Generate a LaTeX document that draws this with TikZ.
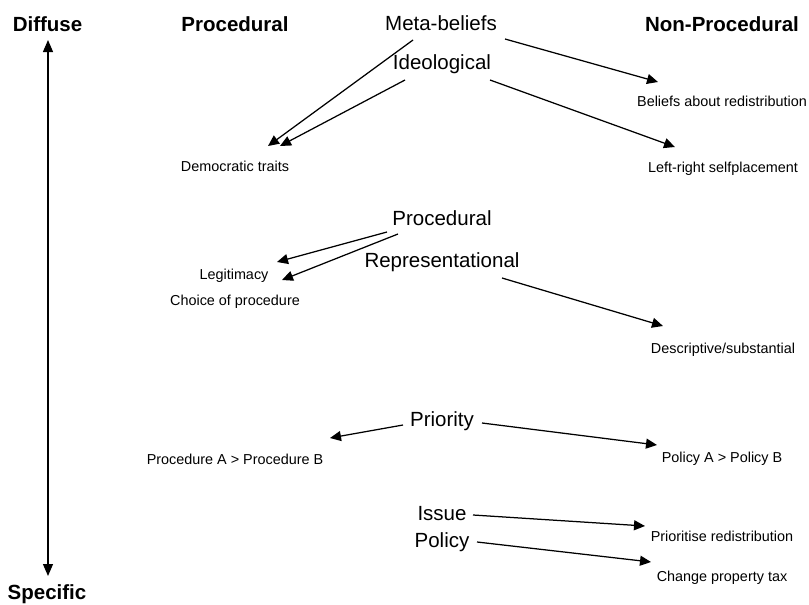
\documentclass[tikz,border=0pt]{standalone}
\usepackage{fontspec}
\setmainfont{Liberation Sans}
\usetikzlibrary{arrows.meta,calc}
\begin{document}
\begin{tikzpicture}[x=1pt,y=-1pt,
  head/.style={inner sep=0pt,font=\fontsize{20.5}{24}\selectfont\bfseries,text height=14.7pt,text depth=0pt,anchor=center},
  big/.style={inner sep=0pt,font=\fontsize{20.5}{24}\selectfont,text height=14.7pt,text depth=0pt,anchor=center},
  small/.style={inner sep=0pt,font=\fontsize{14.4}{17}\selectfont,text height=10.3pt,text depth=0pt,anchor=center},
  arr/.style={line width=1.25pt,-{Triangle[length=11pt,width=10pt]}},
  darr/.style={line width=1.25pt,{Triangle[length=12pt,width=10pt]}-{Triangle[length=12pt,width=10pt]}}]
\useasboundingbox (0,0) rectangle (809,605);
% headers
\node[head] (diffuse) at (47.5,24) {Diffuse};
\node[head] (prochead) at (235,24) {Procedural};
\node[head] (nonproc) at (722,24) {Non-Procedural};
\node[head] (specific) at (47,592) {Specific};
% large labels
\node[big] (meta) at (441,23) {Meta-beliefs};
\node[big] (ideo) at (442,62) {Ideological};
\node[big] (proc) at (442,218) {Procedural};
\node[big] (repr) at (442,260) {Representational};
\node[big] (prio) at (442,419) {Priority};
\node[big] (issue) at (442,513) {Issue};
\node[big] (policy) at (442,540) {Policy};
% small labels
\node[small] (beliefs) at (722,101) {Beliefs about redistribution};
\node[small] (leftright) at (723,167) {Left-right selfplacement};
\node[small] (dem) at (235,166) {Democratic traits};
\node[small] (legit) at (234,274) {Legitimacy};
\node[small] (choice) at (235,300) {Choice of procedure};
\node[small] (desc) at (723,348) {Descriptive/substantial};
\node[small] (procab) at (235,459) {Procedure A > Procedure B};
\node[small] (polab) at (722,457) {Policy A > Policy B};
\node[small] (priorit) at (722,536) {Prioritise redistribution};
\node[small] (change) at (722,576) {Change property tax};
% connectors
\draw[darr] ($(diffuse)+(0.5,16)$) -- ($(specific)+(1,-16)$);
\draw[arr] ($(meta)+(-28,17)$) -- ($(dem)+(33,-20)$);
\draw[arr] ($(ideo)+(-37,18)$) -- ($(dem)+(45,-20)$);
\draw[arr] ($(meta)+(64,16)$) -- ($(beliefs)+(-64,-19)$);
\draw[arr] ($(ideo)+(48,18)$) -- ($(leftright)+(-48,-20)$);
\draw[arr] ($(proc)+(-55,14)$) -- ($(legit)+(43,-12)$);
\draw[arr] ($(proc)+(-44,16)$) -- ($(choice)+(47,-20)$);
\draw[arr] ($(repr)+(60,18)$) -- ($(desc)+(-60,-22)$);
\draw[arr] ($(prio)+(-39,6)$) -- ($(procab)+(95,-21)$);
\draw[arr] ($(prio)+(40,4)$) -- ($(polab)+(-65,-12)$);
\draw[arr] ($(issue)+(31,2)$) -- ($(priorit)+(-77,-10)$);
\draw[arr] ($(policy)+(35,2)$) -- ($(change)+(-71,-14)$);
\end{tikzpicture}
\end{document}
